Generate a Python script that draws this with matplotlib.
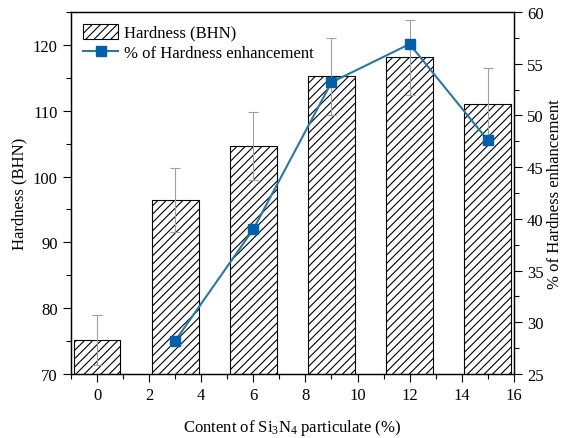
import matplotlib
matplotlib.use("Agg")
import matplotlib.pyplot as plt
from matplotlib.ticker import MultipleLocator

plt.rcParams['font.family'] = ['Liberation Serif', 'DejaVu Serif']
plt.rcParams['mathtext.fontset'] = 'custom'
plt.rcParams['mathtext.rm'] = 'Liberation Serif'
plt.rcParams['mathtext.it'] = 'Liberation Serif:italic'
plt.rcParams['hatch.linewidth'] = 0.8

content = [0, 3, 6, 9, 12, 15]
hardness = [75.2, 96.4, 104.6, 115.2, 118.1, 111.0]
hardness_err = [3.8, 4.9, 5.2, 5.8, 5.7, 5.5]
enh_x = [3, 6, 9, 12, 15]
enhancement = [28.2, 39.0, 53.2, 56.9, 47.6]

fig = plt.figure(figsize=(5.62, 4.39), dpi=100)
ax = fig.add_axes([0.1263, 0.1458, 0.788, 0.8246])
ax.bar(content, hardness, width=1.8, color='white', edgecolor='black', hatch='////',
       linewidth=0.8, label='Hardness (BHN)', zorder=2)
ax.errorbar(content, hardness, yerr=hardness_err, fmt='none', ecolor='#a0a0a0',
            elinewidth=0.8, capsize=3.6, capthick=0.8, zorder=3)
ax.set_xlim(-1, 16)
ax.set_ylim(70, 125)
ax.xaxis.set_major_locator(MultipleLocator(2))
ax.xaxis.set_minor_locator(MultipleLocator(1))
ax.yaxis.set_major_locator(MultipleLocator(10))
ax.yaxis.set_minor_locator(MultipleLocator(5))
ax.tick_params(which='both', direction='out', labelsize=12, width=0.8)
ax.tick_params(which='major', length=6)
ax.tick_params(which='minor', length=3.5)
ax.set_xlabel(r'Content of $\mathrm{Si_3N_4}$ particulate (%)', fontsize=12, labelpad=10)
ax.set_ylabel('Hardness (BHN)', fontsize=12)

ax2 = ax.twinx()
ax2.plot(enh_x, enhancement, color='#2a78a0', linewidth=1.5, marker='s',
         markersize=7, markerfacecolor='#0060a8', markeredgecolor='#0060a8',
         label='% of Hardness enhancement', zorder=4)
ax2.set_ylim(25, 60)
ax2.yaxis.set_major_locator(MultipleLocator(5))
ax2.yaxis.set_minor_locator(MultipleLocator(2.5))
ax2.tick_params(which='both', direction='out', labelsize=12, width=0.8)
ax2.tick_params(which='major', length=6)
ax2.tick_params(which='minor', length=3.5)
ax2.set_ylabel('% of Hardness enhancement', fontsize=12, labelpad=2)

for a in (ax, ax2):
    for s in a.spines.values():
        s.set_linewidth(0.9)

h1, l1 = ax.get_legend_handles_labels()
h2, l2 = ax2.get_legend_handles_labels()
ax2.legend(h1 + h2, l1 + l2, loc='upper left', frameon=False, fontsize=12,
           handlelength=2.15, handleheight=1.0, handletextpad=0.35,
           borderaxespad=0.3, labelspacing=0.2)

fig.savefig('out.png', dpi=100)
